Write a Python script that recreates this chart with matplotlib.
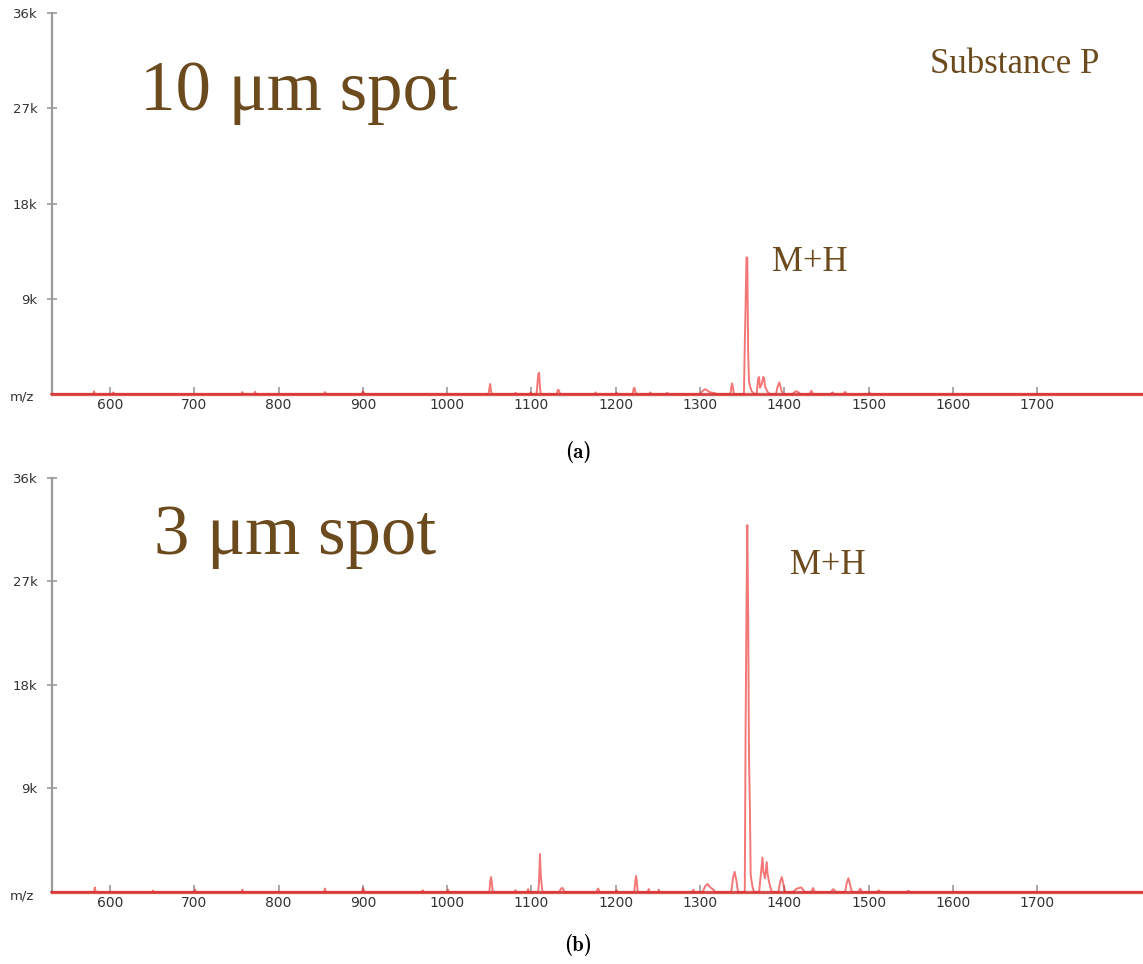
import matplotlib
matplotlib.use("Agg")
import matplotlib.pyplot as plt
import numpy as np

# spectrum (a): 10 um spot, profile points (m/z, counts)
mz_a = [530, 580, 581, 582, 603, 604, 605, 756, 757, 758, 771, 772, 773,
        854, 855, 856, 899, 900, 901, 902,
        1049, 1050, 1051, 1052, 1053, 1080, 1081, 1082, 1098, 1099, 1100,
        1106, 1107, 1108, 1109, 1110, 1111, 1130, 1131, 1132, 1133, 1134,
        1175, 1176, 1177, 1200, 1201, 1202, 1220, 1221, 1222, 1223, 1224,
        1240, 1241, 1242, 1260, 1261, 1262,
        1300, 1303, 1306, 1309, 1312, 1316, 1320,
        1336, 1337, 1338, 1339, 1340,
        1352, 1353, 1354, 1355, 1356, 1357, 1358, 1359, 1361, 1364,
        1367, 1369, 1370, 1371, 1373, 1375, 1376, 1377, 1380, 1383,
        1390, 1392, 1394, 1396, 1398, 1410, 1413, 1416, 1419,
        1430, 1432, 1434, 1455, 1457, 1459, 1470, 1472, 1474,
        1500, 1501, 1502, 1850]
int_a = [0, 0, 250, 0, 0, 150, 0, 0, 180, 0, 0, 200, 0,
         0, 180, 0, 0, 250, 120, 0,
         0, 500, 950, 300, 0, 0, 120, 0, 0, 150, 0,
         0, 900, 1900, 2000, 700, 0, 0, 350, 400, 200, 0,
         0, 150, 0, 0, 120, 0, 0, 450, 600, 300, 0,
         0, 150, 0, 0, 120, 0,
         0, 300, 450, 300, 150, 100, 0,
         0, 600, 1000, 600, 0,
         0, 4600, 8400, 12900, 12900, 4000, 1200, 800, 300, 0,
         0, 1500, 1600, 600, 900, 1600, 1500, 700, 200, 0,
         0, 700, 1100, 500, 0, 0, 250, 200, 0,
         0, 300, 0, 0, 150, 0, 0, 200, 0,
         0, 120, 0, 0]

# spectrum (b): 3 um spot
mz_b = [530, 581, 582, 583, 650, 651, 652, 700, 701, 702, 756, 757, 758,
        854, 855, 856, 899, 900, 901, 902, 970, 971, 972, 1000, 1001, 1002,
        1050, 1051, 1052, 1053, 1054, 1080, 1081, 1082, 1095, 1096, 1097,
        1108, 1109, 1110, 1111, 1112, 1113, 1133, 1135, 1137, 1139,
        1177, 1179, 1181, 1200, 1201, 1202, 1222, 1223, 1224, 1225, 1226,
        1238, 1239, 1240, 1250, 1251, 1252, 1290, 1292, 1293,
        1303, 1306, 1309, 1312, 1315, 1318,
        1337, 1339, 1341, 1343, 1345,
        1353, 1354, 1355, 1356, 1357, 1358, 1359, 1360, 1362, 1364,
        1370, 1372, 1374, 1375, 1377, 1379, 1380, 1382, 1385,
        1393, 1395, 1397, 1399, 1401, 1410, 1415, 1420, 1424,
        1432, 1434, 1436, 1455, 1458, 1461,
        1472, 1474, 1476, 1478, 1480, 1488, 1490, 1492,
        1510, 1512, 1514, 1545, 1547, 1549, 1850]
int_b = [0, 0, 400, 0, 0, 120, 0, 0, 200, 0, 0, 200, 0,
         0, 300, 0, 0, 350, 200, 0, 0, 150, 0, 0, 200, 0,
         0, 900, 1300, 800, 0, 0, 150, 0, 0, 250, 0,
         0, 1000, 3300, 1500, 700, 0, 0, 300, 350, 0,
         0, 300, 0, 0, 150, 0, 0, 800, 1400, 900, 0,
         0, 250, 0, 0, 200, 0, 0, 200, 0,
         0, 500, 700, 400, 250, 0,
         0, 1200, 1750, 1000, 0,
         0, 14400, 24300, 31900, 24300, 11700, 7700, 1500, 500, 0,
         0, 1500, 3000, 1800, 1200, 2600, 1600, 800, 0,
         0, 900, 1300, 600, 0, 0, 300, 400, 0,
         0, 350, 0, 0, 250, 0,
         0, 800, 1200, 600, 0, 0, 300, 0,
         0, 150, 0, 0, 100, 0, 0]

yticks = [9000, 18000, 27000, 36000]
ytick_labels = ["9k", "18k", "27k", "36k"]
xticks = [600, 700, 800, 900, 1000, 1100, 1200, 1300, 1400, 1500, 1600, 1700]

brown = "#6b4a1e"
grey = "#9a9a9a"

fig = plt.figure(figsize=(11.43, 9.64), dpi=100)
ax_a = fig.add_axes([0.0455, 0.5913, 0.9545, 0.3952])
ax_b = fig.add_axes([0.0455, 0.0747, 0.9545, 0.4295])


def draw_spectrum(ax, mz, inten):
    ax.set_xlim(531.2, 1825.4)
    ax.set_ylim(0, 36000)
    ax.plot(mz, inten, color="#ee1c1c", alpha=0.6, lw=1.4, clip_on=False, zorder=4)
    ax.plot([531.2, 1825.4], [0, 0], color="#d83030", alpha=0.8, lw=2.4,
            clip_on=False, zorder=5)
    for s in ["top", "right"]:
        ax.spines[s].set_visible(False)
    ax.spines["left"].set_color(grey)
    ax.spines["left"].set_linewidth(1.6)
    ax.spines["bottom"].set_color(grey)
    ax.set_yticks(yticks)
    ax.set_yticklabels(ytick_labels)
    ax.set_xticks(xticks)
    ax.tick_params(axis="y", direction="inout", length=7, width=1.2,
                   color=grey, labelsize=9.5, labelcolor="#333333", pad=7)
    ax.tick_params(axis="x", direction="in", length=5, width=1.2,
                   color=grey, labelsize=10, labelcolor="#333333", pad=3)
    ax.set_facecolor("none")


draw_spectrum(ax_a, mz_a, int_a)
draw_spectrum(ax_b, mz_b, int_b)

serif = "Liberation Serif"
fig.text(0.1225, 0.886, "10 \u03bcm spot", fontsize=51, color=brown,
         family=serif, va="baseline")
fig.text(0.814, 0.924, "Substance P", fontsize=25, color=brown,
         family=serif, va="baseline")
fig.text(0.675, 0.719, "M+H", fontsize=25, color=brown,
         family=serif, va="baseline")
fig.text(0.135, 0.425, "3 \u03bcm spot", fontsize=51, color=brown,
         family=serif, va="baseline")
fig.text(0.691, 0.405, "M+H", fontsize=25, color=brown,
         family=serif, va="baseline")

fig.text(0.019, 0.588, "m/z", fontsize=9.5, color="#333333", ha="center", va="center")
fig.text(0.019, 0.071, "m/z", fontsize=9.5, color="#333333", ha="center", va="center")

fig.text(0.506, 0.531, "(a)", fontsize=15, family="cmb10", ha="center", va="center")
fig.text(0.506, 0.020, "(b)", fontsize=15, family="cmb10", ha="center", va="center")

fig.savefig("out.png", dpi=100)
